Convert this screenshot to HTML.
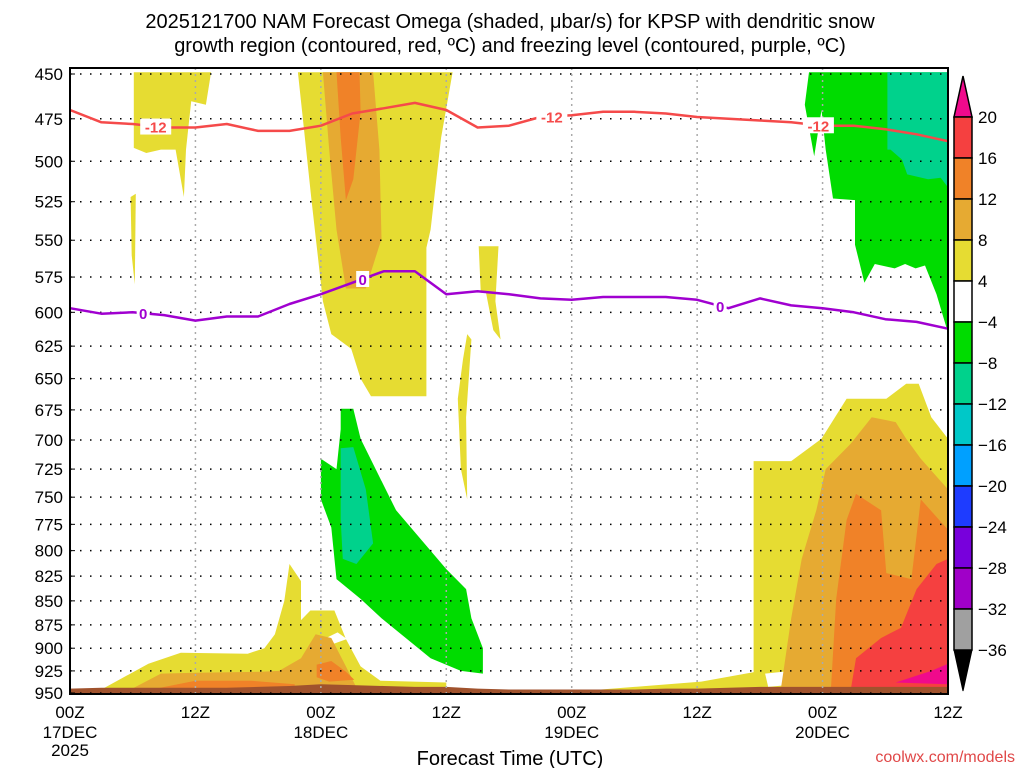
<!DOCTYPE html>
<html><head><meta charset="utf-8"><style>
html,body{margin:0;padding:0;background:#fff;}
svg{display:block;font-family:"Liberation Sans",sans-serif;}
</style></head><body>
<svg id="chart" width="1024" height="768" viewBox="0 0 1024 768">
<rect width="1024" height="768" fill="#fff"/>
<text x="510" y="28" text-anchor="middle" font-size="20" fill="#000">2025121700 NAM Forecast Omega (shaded, μbar/s) for KPSP with dendritic snow</text>
<text x="510" y="52" text-anchor="middle" font-size="20" fill="#000">growth region (contoured, red, ºC) and freezing level (contoured, purple, ºC)</text>
<g id="fills"></g>
<g id="grid"></g>
<g id="lines"></g>
<g id="axes"></g>
<g id="cbar"></g>
<text x="510" y="765" text-anchor="middle" font-size="20" fill="#000">Forecast Time (UTC)</text>
<text x="1015" y="762" text-anchor="end" font-size="16" fill="#e04848">coolwx.com/models</text>
</svg>
<script>
// ---- data ----
const pressureTicks=[450,475,500,525,550,575,600,625,650,675,700,725,750,775,800,825,850,875,900,925,950];
const timeTicks=[0,12,24,36,48,60,72,84];
const timeLabels=["00Z","12Z","00Z","12Z","00Z","12Z","00Z","12Z"];
const dateLabels=["17DEC","","18DEC","","19DEC","","20DEC",""];
const contourHours=[0,3,6,9,12,15,18,21,24,27,30,33,36,39,42,45,48,51,54,57,60,63,66,69,72,75,78,81,84];
const dgzTop=[470,477,478,480,480,478,482,482,479,472,469,466,470,480,479,474,473,471,471,472,474,475,476,477,479,479,481,484,488];
const freezeLevel=[597,601,600,602,606,603,603,594,587,579,571,571,587,585,587,590,591,589,589,589,591,597,590,595,597,600,605,607,612];
const groundP=[945,944,944,944,944,944,943,942,940,941,942,943,943,945,946,946,946,946,946,945,945,944,943,943,943,943,943,943,943];
const cbarLevels=[20,16,12,8,4,-4,-8,-12,-16,-20,-24,-28,-32,-36];
const cbarColors=["#f54040","#f08228","#e6aa32","#e6dc32","#ffffff","#00dc00","#00d28c","#00c8c8","#00a0ff","#1e3cff","#7800dc","#a000c8","#a0a0a0"];
const C={y:"#e6dc32",lo:"#e6aa32",o:"#f08228",r:"#f54040",p:"#f00a8c",g:"#00dc00",t:"#00d28c",w:"#ffffff"};
// shaded regions: [colorKey, [[hour,hPa],...]]
const regions=[
 ["y",[[6.1,449],[13.5,449],[13,467],[11.6,465],[11.1,493],[10.9,522],[10.1,493],[8.7,493],[7.3,495],[6.1,492]]],
 ["y",[[5.8,522],[6.3,520],[6.2,580],[5.9,560]]],
 ["y",[[21.8,449],[36.6,449],[35.5,486],[34.5,543],[34.1,555],[34.1,664],[28.8,664],[27.8,650],[26.9,627],[25,616],[24.2,592],[23.1,524],[22.1,465]]],
 ["lo",[[24.2,449],[29,449],[29.6,493],[29.8,549],[28.3,583],[26.4,583],[25.5,543],[24.8,493]]],
 ["o",[[25.5,449],[27.7,449],[27.8,471],[27.1,511],[26.4,524],[25.9,486]]],
 ["y",[[39.1,554],[41,554],[40.7,592],[41.2,620],[40.5,613],[39.8,586],[39.3,586]]],
 ["y",[[38,616],[38.4,620],[37.9,681],[38,752],[37.4,725],[37.1,666],[37.6,635]]],
 ["y",[[3,946],[7.5,917],[10.6,905],[17,906],[18.6,900],[19.6,885],[20.5,850],[21,813],[22.1,830],[22.1,870],[23,860],[25.3,860],[26.4,890],[27.8,920],[29.7,936],[36,938],[36,946]]],
 ["w",[[24.5,889],[25.6,883],[26.5,890],[24.8,897]]],
 ["lo",[[5.8,946],[8.7,928],[12,927],[18.3,926],[20,925],[22.1,911],[23.5,885],[25,889],[26.4,920],[27.5,946]]],
 ["o",[[7.8,946],[12,936],[17.3,936],[21.5,940],[21.5,946]]],
 ["o",[[23.6,918],[25,914],[26.4,926],[27.2,935],[24.8,937],[23.6,932]]],
 ["y",[[50.8,946],[60.4,937],[66.1,925],[66.1,946]]],
 ["g",[[25.9,674],[27.1,674],[27.8,699],[30.2,743],[31.2,762],[36,818],[37.9,838],[38.4,868],[39.5,900],[39.5,928],[37.4,925],[34.5,911],[29.8,868],[27.8,848],[25.5,828],[25,778],[24,752],[24,716],[25.5,725],[25.9,691]]],
 ["t",[[25.9,707],[27.1,706],[28.3,743],[29,793],[27.4,813],[26.1,808],[25.9,771]]],
 ["g",[[70.7,449],[84,449],[84,615],[82.9,587],[81.8,567],[80.9,569],[79.9,566],[78.9,569],[77,566],[76,579],[75.1,553],[75.1,524],[73,523],[72.3,493],[71.9,470],[71.2,497],[70.3,467]]],
 ["t",[[78.2,449],[84,449],[84,516],[83.3,510],[82.1,511],[80.1,508],[79.6,499],[78.5,493],[78.2,493]]],
 ["y",[[65.4,946],[65.4,718],[69,718],[71.9,699],[74.3,666],[78.1,666],[80,654],[81.2,654],[82.4,681],[84,699],[84,946]]],
 ["w",[[66.5,928],[69,925],[69.5,940],[66.8,943]]],
 ["lo",[[68,946],[69,868],[70,808],[71.4,762],[72.3,725],[74.7,703],[76.7,681],[79,685],[80,699],[81.4,716],[84,743],[84,946]]],
 ["o",[[72.8,946],[73.3,848],[74.3,771],[75.2,747],[77.6,762],[78.1,822],[80.5,828],[81.4,752],[84,780],[84,946]]],
 ["r",[[74.7,946],[75.2,911],[77.6,889],[79.5,878],[81,838],[82.9,813],[84,808],[84,946]]],
 ["p",[[79,938],[82.4,925],[84,917],[84,940]]]
];
const contourLabels=[["dgz",8.2,"-12"],["dgz",46.1,"-12"],["dgz",71.6,"-12"],["fz",7,"0"],["fz",28,"0"],["fz",62.2,"0"]];
// ---- axes ----
const X0=70,X1=948,Y0=74,Y1=693,PT=68,PB=694;
const xs=h=>X0+h/84*(X1-X0);
const ys=p=>Y0+(Math.log(Math.min(p,952))-Math.log(450))/(Math.log(950)-Math.log(450))*(Y1-Y0);
const NS="http://www.w3.org/2000/svg";
function mk(tag,attrs,parent){const e=document.createElementNS(NS,tag);for(const k in attrs)e.setAttribute(k,attrs[k]);parent.appendChild(e);return e;}
const fills=document.getElementById('fills'),grid=document.getElementById('grid'),lines=document.getElementById('lines'),axes=document.getElementById('axes'),cbar=document.getElementById('cbar');
mk('clipPath',{id:'pc'},fills).appendChild(document.createElementNS(NS,'rect'));
fills.querySelector('rect').setAttribute('x',X0);fills.querySelector('rect').setAttribute('y',PT);fills.querySelector('rect').setAttribute('width',X1-X0);fills.querySelector('rect').setAttribute('height',PB-PT);
fills.setAttribute('clip-path','url(#pc)');
regions.forEach((r,i)=>{
 const el=mk('polygon',{points:r[1].map(d=>xs(d[0]).toFixed(1)+','+ys(d[1]).toFixed(1)).join(' '),fill:C[r[0]]},fills);
 
 
});
// ground
let gp=contourHours.map((h,i)=>xs(h).toFixed(1)+','+ys(groundP[i]).toFixed(1)).join(' ');
gp+=' '+xs(84)+','+PB+' '+xs(0)+','+PB;
const ground=mk('polygon',{points:gp,fill:'#a0522d'},fills);


// grid
pressureTicks.forEach(p=>{
 const y=ys(p);
 const gl=mk('line',{x1:X0,x2:X1,y1:y,y2:y,stroke:'#000','stroke-width':1.5,'stroke-dasharray':'1.5,8.5'},grid);
 
 
 const t=mk('text',{x:63,y:y+6,'text-anchor':'end','font-size':17,fill:'#000'},axes);t.textContent=p;
 
 
 mk('line',{x1:X0,x2:X0+5,y1:y,y2:y,stroke:'#000'},axes);
});
timeTicks.forEach((h,i)=>{
 const x=xs(h);
 if(i>0&&i<timeTicks.length-1){const v=mk('line',{x1:x,x2:x,y1:PT,y2:PB,stroke:'#aaa','stroke-width':1.5,'stroke-dasharray':'2,4'},grid);
 
 }
 const t=mk('text',{x:x,y:718,'text-anchor':'middle','font-size':17},axes);t.textContent=timeLabels[i];
 
 
 if(dateLabels[i]){const d=mk('text',{x:x,y:738,'text-anchor':'middle','font-size':17},axes);d.textContent=dateLabels[i];
 
 }
});
const yr=mk('text',{x:xs(0),y:756,'text-anchor':'middle','font-size':17},axes);yr.textContent='2025';


const fr=mk('rect',{x:X0,y:PT,width:X1-X0,height:PB-PT,fill:'none',stroke:'#000','stroke-width':2},axes);


// contour lines
function drawLine(arr,color,name){
 const pl=mk('polyline',{points:contourHours.map((h,i)=>xs(h).toFixed(1)+','+ys(arr[i]).toFixed(1)).join(' '),fill:'none',stroke:color,'stroke-width':2.5,'stroke-linejoin':'round'},lines);
 
 
}
drawLine(dgzTop,'#f54a4a','dgz-minus12-contour');
drawLine(freezeLevel,'#a000d0','freezing-level-contour');
function interp(arr,h){const i=Math.min(Math.floor(h/3),arr.length-2);const f=(h-contourHours[i])/3;return arr[i]+(arr[i+1]-arr[i])*f;}
contourLabels.forEach(l=>{
 const arr=l[0]==='dgz'?dgzTop:freezeLevel,col=l[0]==='dgz'?'#f54a4a':'#a000d0';
 const x=xs(l[1]),y=ys(interp(arr,l[1]));
 const w=l[2].length*9+4;
 mk('rect',{x:x-w/2,y:y-8,width:w,height:16,fill:'#fff'},lines);
 const t=mk('text',{x:x,y:y+6,'text-anchor':'middle','font-size':15,'font-weight':'bold',fill:col},lines);t.textContent=l[2];
 
 
});
// colorbar
const CB0=117,CBS=41,CX=954,CW=18;
const tri=mk('polygon',{points:`${CX},${CB0} ${CX+CW},${CB0} ${CX+CW/2},${CB0-41}`,fill:'#f00a8c',stroke:'#000','stroke-width':1.5},cbar);


cbarColors.forEach((c,i)=>{
 const r=mk('rect',{x:CX,y:CB0+i*CBS,width:CW,height:CBS,fill:c,stroke:'#000','stroke-width':1.5},cbar);
 
 
});
const bot=CB0+cbarColors.length*CBS;
const tri2=mk('polygon',{points:`${CX},${bot} ${CX+CW},${bot} ${CX+CW/2},${bot+41}`,fill:'#000',stroke:'#000'},cbar);


cbarLevels.forEach((v,i)=>{
 const t=mk('text',{x:978,y:CB0+i*CBS+6,'font-size':17},cbar);t.textContent=v<0?'\u2212'+(-v):v;
 
 
});
</script>
</body></html>
